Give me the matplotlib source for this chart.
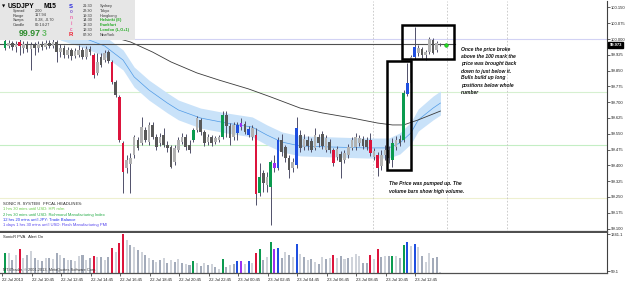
import matplotlib
matplotlib.use("Agg")
import matplotlib.pyplot as plt
from matplotlib.patches import Rectangle

plt.rcParams['font.family'] = ['Liberation Sans', 'DejaVu Sans']

# ---------------- data ----------------
opens = [99.957, 99.967, 99.981, 99.962, 99.986, 99.957, 99.976, 99.953, 99.972, 99.957,
         99.976, 99.962, 99.981, 99.967, 99.986, 99.938, 99.957, 99.924, 99.948, 99.919,
         99.924, 99.948, 99.915, 99.953, 99.924, 99.839, 99.915, 99.900, 99.938, 99.891,
         99.796, 99.725, 99.506, 99.388, 99.407, 99.449, 99.521, 99.506, 99.568, 99.511,
         99.592, 99.535, 99.506, 99.544, 99.497, 99.487, 99.416, 99.473, 99.511, 99.535,
         99.497, 99.521, 99.568, 99.616, 99.559, 99.511, 99.535, 99.511, 99.521, 99.535,
         99.639, 99.587, 99.535, 99.592, 99.582, 99.597, 99.573, 99.535, 99.544, 99.269,
         99.364, 99.307, 99.297, 99.411, 99.388, 99.521, 99.487, 99.435, 99.388, 99.402,
         99.544, 99.487, 99.521, 99.516, 99.483, 99.535, 99.549, 99.473, 99.511, 99.473,
         99.440, 99.454, 99.426, 99.449, 99.483, 99.487, 99.506, 99.525, 99.521, 99.521,
         99.440, 99.449, 99.397, 99.449, 99.473, 99.426, 99.487, 99.525, 99.521, 99.739,
         99.791, 99.915, 99.934, 99.953, 99.924, 99.938, 99.995, 99.948, 99.976]
highs = [100.005, 99.995, 99.991, 99.991, 100.000, 99.991, 99.991, 99.986, 99.986, 99.991,
         99.991, 99.995, 99.995, 100.000, 99.995, 99.976, 99.972, 99.962, 99.957, 99.957,
         99.972, 99.962, 99.967, 99.967, 99.934, 99.934, 99.934, 99.948, 99.948, 99.900,
         99.805, 99.734, 99.516, 99.449, 99.459, 99.544, 99.535, 99.630, 99.582, 99.606,
         99.606, 99.549, 99.554, 99.577, 99.516, 99.497, 99.497, 99.535, 99.554, 99.549,
         99.521, 99.577, 99.634, 99.625, 99.568, 99.549, 99.544, 99.540, 99.544, 99.658,
         99.658, 99.601, 99.606, 99.606, 99.625, 99.611, 99.587, 99.592, 99.577, 99.411,
         99.378, 99.369, 99.426, 99.449, 99.535, 99.549, 99.497, 99.449, 99.435, 99.630,
         99.568, 99.549, 99.540, 99.530, 99.577, 99.549, 99.563, 99.544, 99.525, 99.483,
         99.492, 99.468, 99.473, 99.502, 99.535, 99.554, 99.544, 99.540, 99.535, 99.554,
         99.483, 99.464, 99.473, 99.497, 99.492, 99.530, 99.540, 99.544, 99.758, 99.886,
         99.924, 100.057, 99.972, 99.962, 99.948, 100.010, 100.005, 99.991, 99.981]
lows = [99.948, 99.957, 99.948, 99.938, 99.924, 99.934, 99.938, 99.853, 99.924, 99.938,
        99.948, 99.953, 99.957, 99.957, 99.891, 99.915, 99.910, 99.910, 99.900, 99.910,
        99.915, 99.905, 99.905, 99.924, 99.815, 99.829, 99.867, 99.891, 99.886, 99.786,
        99.725, 99.511, 99.269, 99.364, 99.269, 99.435, 99.473, 99.497, 99.511, 99.497,
        99.525, 99.473, 99.492, 99.487, 99.464, 99.388, 99.402, 99.464, 99.502, 99.473,
        99.459, 99.511, 99.559, 99.544, 99.492, 99.497, 99.492, 99.502, 99.511, 99.525,
        99.535, 99.497, 99.521, 99.521, 99.568, 99.549, 99.535, 99.521, 99.212, 99.255,
        99.274, 99.274, 99.117, 99.369, 99.378, 99.445, 99.416, 99.340, 99.369, 99.388,
        99.464, 99.473, 99.473, 99.464, 99.473, 99.487, 99.478, 99.464, 99.459, 99.397,
        99.426, 99.340, 99.411, 99.435, 99.473, 99.473, 99.492, 99.478, 99.473, 99.445,
        99.426, 99.350, 99.378, 99.426, 99.411, 99.392, 99.473, 99.492, 99.511, 99.729,
        99.782, 99.905, 99.919, 99.910, 99.900, 99.929, 99.929, 99.938, 99.967]
closes = [99.991, 99.981, 99.962, 99.976, 99.967, 99.976, 99.953, 99.972, 99.957, 99.976,
          99.962, 99.981, 99.967, 99.986, 99.938, 99.957, 99.924, 99.948, 99.919, 99.943,
          99.948, 99.915, 99.953, 99.938, 99.829, 99.891, 99.877, 99.934, 99.896, 99.796,
          99.734, 99.521, 99.369, 99.426, 99.435, 99.535, 99.483, 99.582, 99.521, 99.592,
          99.535, 99.487, 99.535, 99.497, 99.483, 99.392, 99.483, 99.521, 99.535, 99.487,
          99.473, 99.568, 99.625, 99.559, 99.506, 99.535, 99.506, 99.530, 99.535, 99.639,
          99.587, 99.530, 99.592, 99.554, 99.601, 99.559, 99.544, 99.577, 99.264, 99.345,
          99.316, 99.345, 99.416, 99.388, 99.521, 99.464, 99.435, 99.378, 99.416, 99.577,
          99.483, 99.525, 99.492, 99.473, 99.544, 99.506, 99.492, 99.530, 99.473, 99.411,
          99.478, 99.416, 99.459, 99.487, 99.521, 99.535, 99.530, 99.492, 99.487, 99.459,
          99.468, 99.388, 99.449, 99.473, 99.435, 99.506, 99.521, 99.506, 99.744, 99.791,
          99.915, 99.962, 99.957, 99.924, 99.938, 100.000, 99.934, 99.981, 99.972]
volumes = [688, 688, 447, 619, 826, 516, 619, 757, 516, 447,
           413, 516, 516, 482, 688, 619, 516, 447, 447, 413,
           585, 619, 447, 516, 585, 550, 550, 447, 550, 860,
           722, 1032, 1341, 1135, 963, 894, 791, 722, 619, 516,
           447, 378, 447, 516, 344, 447, 378, 482, 344, 310,
           275, 413, 344, 241, 344, 275, 310, 206, 138, 482,
           206, 275, 310, 413, 413, 310, 413, 344, 688, 826,
           447, 550, 1066, 826, 860, 516, 722, 619, 550, 998,
           654, 550, 447, 482, 378, 310, 550, 482, 516, 619,
           516, 585, 482, 516, 550, 654, 585, 344, 344, 619,
           482, 826, 550, 585, 585, 585, 585, 516, 963, 1066,
           929, 998, 894, 585, 378, 688, 516, 550, 30]
# bar class: u/d = normal light/dark volume, r/g/b/p = signal colours
kinds = list("gudurududu"
             "dududududu"
             "ududrududr"
             "urrudududu"
             "dududududu"
             "dgudududug"
             "dudbpuburg"
             "dugpbdudub"
             "ududududur"
             "ududuuuddr"
             "urdudgudgb"
             "ubuduuddu")
vol_labels = ["1341.1", "59.1"]
vol_ticks = [1341.1, 59.1]

price_ticks = [100.150, 100.075, 100.000, 99.925, 99.850, 99.775, 99.700, 99.625,
               99.550, 99.475, 99.400, 99.325, 99.250, 99.175, 99.100]
time_labels = ["22 Jul 2013", "22 Jul 10:45", "22 Jul 12:45", "22 Jul 14:45", "22 Jul 16:45",
               "22 Jul 18:45", "22 Jul 20:45", "22 Jul 22:45", "23 Jul 00:45", "23 Jul 02:45",
               "23 Jul 04:45", "23 Jul 06:45", "23 Jul 08:45", "23 Jul 10:45", "23 Jul 12:45"]
time_idx = [0, 8, 16, 24, 32, 40, 48, 56, 64, 72, 80, 88, 96, 104, 112]

ma_idx = [25, 34, 40, 45, 52, 58, 66, 72, 80, 86, 94, 101, 105, 108, 112, 118]
ma_val = [100.030, 99.986, 99.938, 99.891, 99.839, 99.805, 99.763, 99.725, 99.672,
          99.649, 99.625, 99.601, 99.592, 99.592, 99.616, 99.658]

band_idx = [15, 20, 27, 32, 35, 39, 44, 47, 53, 60, 67, 71, 75, 80, 89, 98, 104, 107, 110, 112, 116, 118]
band_mid = [100.043, 100.014, 99.967, 99.900, 99.820, 99.758, 99.696, 99.663, 99.625, 99.601,
            99.582, 99.544, 99.511, 99.492, 99.487, 99.483, 99.483, 99.506, 99.554, 99.616,
            99.672, 99.696]
band_up = [100.090, 100.062, 100.014, 99.948, 99.867, 99.805, 99.744, 99.710, 99.672, 99.649,
           99.630, 99.592, 99.559, 99.540, 99.535, 99.530, 99.530, 99.554, 99.606, 99.668,
           99.729, 99.753]
band_lo = [99.995, 99.967, 99.919, 99.853, 99.772, 99.710, 99.649, 99.616, 99.577, 99.554,
           99.535, 99.497, 99.464, 99.445, 99.440, 99.435, 99.435, 99.454, 99.502, 99.563,
           99.616, 99.639]

current_price = 99.973
level_lines = [(100.000, '#d2d2f4'), (99.748, '#d6f0d0'), (99.497, '#c4eec4'), (99.245, '#eef0d0')]
bid_line = 99.975
vgrid_idx = [99.7, 119.8, 136.0]

# ---------------- figure ----------------
W, H = 625, 284
fig = plt.figure(figsize=(W / 100, H / 100), dpi=100)
fig.patch.set_facecolor('white')


def rect(x0, y0, x1, y1):
    return [x0 / W, 1 - y1 / H, (x1 - x0) / W, (y1 - y0) / H]


ax = fig.add_axes(rect(0, 1, 607, 232))
axv = fig.add_axes(rect(0, 233, 607, 273))
ov = fig.add_axes([0, 0, 1, 1], zorder=10)
ov.set_xlim(0, W)
ov.set_ylim(H, 0)
ov.axis('off')
ov.patch.set_alpha(0)

x_lo, x_hi = -1.355, 163.14
ax.set_xlim(x_lo, x_hi)
ax.set_ylim(99.0838, 100.1804)
axv.set_xlim(x_lo, x_hi)
axv.set_ylim(0, 1376)

special = {'r': '#dc143c', 'g': '#0b9b4f', 'b': '#1f4fe0', 'p': '#9b30f0'}
vol_norm = {'u': '#cfd3da', 'd': '#a3abba'}
up_col, dn_col, wick_col = '#b2b2b2', '#585858', '#50506a'

n = len(closes)
idx = list(range(n))

# level lines and grid
for lv, col in level_lines:
    ax.axhline(lv, color=col, lw=0.8, zorder=0)
for v in vgrid_idx:
    ax.axvline(v, color='#c4c4c4', lw=0.6, ls=(0, (2, 2)), zorder=0)

# band
ax.fill_between(band_idx, band_lo, band_up, color='#c9e2f9', lw=0, zorder=1)
ax.plot(band_idx, band_mid, color='#4f9ae6', lw=0.5, zorder=2)
# moving average
ax.plot(ma_idx, ma_val, color='#3a3a3a', lw=0.6, zorder=2)
# bid line
ax.plot([x_lo, 122], [bid_line, bid_line], color='#505050', lw=0.8, zorder=2)

# candles
for i in idx:
    o, h, l, c = opens[i], highs[i], lows[i], closes[i]
    k = kinds[i]
    if k in special:
        col = special[k]
    else:
        col = up_col if c >= o else dn_col
    ax.vlines(i, l, h, color=wick_col, lw=0.7, zorder=3)
    lo_b = min(o, c)
    hb = max(abs(c - o), 0.0025)
    ax.add_patch(Rectangle((i - 0.36, lo_b), 0.72, hb, facecolor=col, edgecolor='none', zorder=4))

# current price marker
ax.plot([119.5], [current_price], marker='o', ms=2.6, color='#22dd22', mec='#119911', mew=0.4, zorder=6)

# annotation boxes
ax.add_patch(Rectangle((103.5, 99.378), 6.5, 99.8956 - 99.378, fill=False, ec='black', lw=1.8, zorder=5))
ax.add_patch(Rectangle((107.6, 99.905), 14.1, 100.066 - 99.905, fill=False, ec='black', lw=1.8, zorder=5))

# volumes
vcols = [special.get(k, vol_norm.get(k)) for k in kinds]
axv.bar(idx, volumes, width=0.55, color=vcols, zorder=2)

# axes styling
for a in (ax, axv):
    for s in ('left', 'top'):
        a.spines[s].set_visible(False)
    a.spines['right'].set_color('#404040')
    a.spines['right'].set_linewidth(0.8)
    a.spines['bottom'].set_color('#505050')
    a.yaxis.tick_right()
    a.tick_params(axis='y', length=2, width=0.5, pad=1, labelsize=3, colors='#202020')
ax.spines['bottom'].set_linewidth(1.6)
axv.spines['bottom'].set_linewidth(0.9)
ax.set_xticks([])
ax.set_yticks(price_ticks)
ax.set_yticklabels(["%.3f" % t for t in price_ticks])
axv.set_yticks(vol_ticks)
axv.set_yticklabels(vol_labels)
axv.set_xticks([t - 0.8 for t in time_idx])
axv.set_xticklabels(time_labels, ha='left')
axv.tick_params(axis='x', length=2, width=0.5, pad=1.5, labelsize=3, colors='#202020')

# current price tag
ax.text(1.004, current_price, "%.3f" % current_price, transform=ax.get_yaxis_transform(),
        fontsize=3, color='white', va='center', ha='left', fontweight='bold',
        bbox=dict(boxstyle='square,pad=0.25', fc='black', ec='black'), zorder=7, clip_on=False)

# ---------------- overlay texts ----------------
ov.add_patch(Rectangle((0, 0), 135, 40, facecolor='#e6e6e6', edgecolor='none'))
ov.text(2, 6, "\u25bc", fontsize=3, family='DejaVu Sans', va='center', color='black')
ov.text(8, 6, "USDJPY", fontsize=4.8, fontweight='bold', va='center', color='black')
ov.text(44, 6, "M15", fontsize=4.8, fontweight='bold', va='center', color='black')
info_l = ["Spread", "Range", "Swaps", "Candle"]
info_v = ["2.00", "117.94", "0.28, -0.70", "00:14:27"]
for j, (a_, b_) in enumerate(zip(info_l, info_v)):
    ov.text(13, 11 + 4.5 * j, a_, fontsize=2.8, va='center', color='#333333')
    ov.text(35, 11 + 4.5 * j, b_, fontsize=2.8, va='center', color='#333333')
ov.text(19, 33, "99.97", fontsize=6.3, fontweight='bold', va='center', color='#2c8c2c')
ov.text(41.5, 33, "3", fontsize=6.3, fontweight='bold', va='center', color='#66bb66')
sonic = [("S", '#2222dd'), ("o", '#8866cc'), ("n", '#ee66aa'), ("i", '#ee66aa'), ("c", '#ee66aa'), ("R", '#ee2233')]
for j, (ch, col) in enumerate(sonic):
    ov.text(71, 6 + 5.8 * j, ch, fontsize=4.3 if ch in "SR" else 3.4, fontweight='bold',
            ha='center', va='center', color=col)
times = ["21:30", "22:30", "19:30", "14:30", "13:30", "12:30", "07:30"]
cities = ["Sydney", "Tokyo", "Hongkong", "Helsinki (E)", "Frankfurt", "London (L,O+1)", "NewYork"]
city_cols = ['#333333', '#333333', '#333333', '#22aa22', '#22aa22', '#22aa22', '#333333']
for j in range(7):
    ov.text(83, 6 + 4.8 * j, times[j], fontsize=2.8, va='center', color='#333333')
    ov.text(100, 6 + 4.8 * j, cities[j], fontsize=2.8, va='center', color=city_cols[j],
            fontweight='bold' if city_cols[j] != '#333333' else 'normal')

note1 = ["Once the price broke", "above the 100 mark the", "price was brought back",
         "down to just below it.", "Bulls build up long", "positions below whole", "number"]
for j, t in enumerate(note1):
    ov.text(461, 50 + 7 * j, t, fontsize=3.6, fontweight='bold', fontstyle='italic',
            va='center', color='#111111')
note2 = ["The Price was pumped up. The", "volume bars show high volume."]
for j, t in enumerate(note2):
    ov.text(389, 184 + 7 * j, t, fontsize=3.6, fontweight='bold', fontstyle='italic',
            va='center', color='#111111')

ov.text(3, 204, "SONIC R. SYSTEM   FFCAL HEADLINES:", fontsize=3, va='center', color='#222222')
heads = ["1 hrs 30 mins until USD: HPI m/m",
         "2 hrs 30 mins until USD: Richmond Manufacturing Index",
         "12 hrs 20 mins until JPY: Trade Balance",
         "1 days 1 hrs 30 mins until USD: Flash Manufacturing PMI"]
head_cols = ['#66cc44', '#22aa44', '#2233ee', '#5544ee']
for j, t in enumerate(heads):
    ov.text(3, 209.5 + 5.2 * j, t, fontsize=3, va='center', color=head_cols[j])

ov.text(3, 237, "SonicR PVA   Alert On", fontsize=3, va='center', color='#222222')
ov.text(3, 269.5, "MT4Trader, \u00a9 2001-2013, MetaQuotes Software Corp.", fontsize=2.8,
        va='center', color='#333333')

fig.savefig("out.png", dpi=100, facecolor='white')
